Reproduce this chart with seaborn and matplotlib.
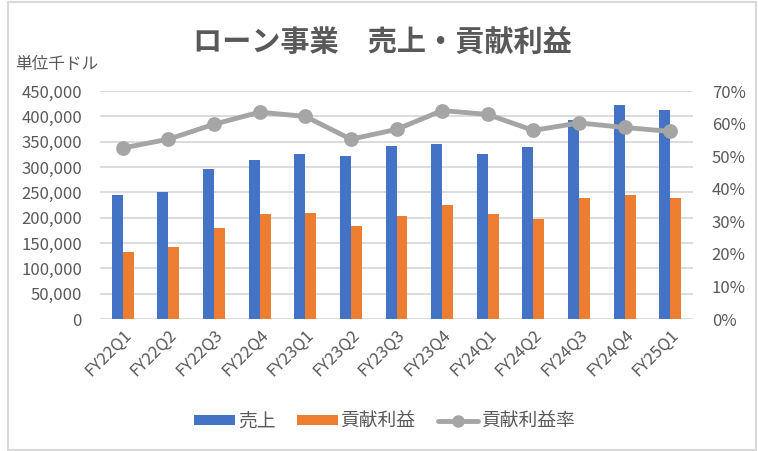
import pandas as pd
import seaborn as sns
import matplotlib
matplotlib.use('Agg')
import matplotlib.pyplot as plt
from matplotlib.patches import Patch, Rectangle
from matplotlib.lines import Line2D
from matplotlib.ticker import FuncFormatter, MultipleLocator

quarters = ['FY22Q1', 'FY22Q2', 'FY22Q3', 'FY22Q4', 'FY23Q1', 'FY23Q2', 'FY23Q3',
            'FY23Q4', 'FY24Q1', 'FY24Q2', 'FY24Q3', 'FY24Q4', 'FY25Q1']
sales = [245000, 250000, 296000, 313000, 325000, 321000, 341000,
         345000, 325000, 339000, 392000, 422000, 412000]
contrib = [132000, 142000, 180000, 207000, 209000, 184000, 203000,
           225000, 207000, 197000, 239000, 244000, 239000]
rate = [0.525, 0.552, 0.598, 0.635, 0.622, 0.552, 0.582,
        0.640, 0.628, 0.579, 0.602, 0.588, 0.576]

BLUE = '#4472C4'
ORANGE = '#ED7D31'
GRAY = '#A5A5A5'
TXT = '#595959'
GRID = '#D9D9D9'

sns.set_style('white')
plt.rcParams['font.family'] = ['Noto Sans CJK JP', 'DejaVu Sans']

df = pd.DataFrame({'q': quarters * 2,
                   'v': sales + contrib,
                   's': ['売上'] * len(quarters) + ['貢献利益'] * len(quarters)})
df_rate = pd.DataFrame({'q': quarters, 'r': rate})

fig = plt.figure(figsize=(7.58, 4.51), dpi=100)
ax = fig.add_axes([100 / 758, 1 - 319 / 451, 593 / 758, 228 / 451])

sns.barplot(data=df, x='q', y='v', hue='s', order=quarters,
            palette=[BLUE, ORANGE], width=0.48, gap=0, saturation=1,
            linewidth=0, edgecolor='none', ax=ax, legend=False)
ax.set_ylim(0, 450000)
ax.yaxis.set_major_locator(MultipleLocator(50000))
ax.yaxis.set_major_formatter(FuncFormatter(lambda v, p: f'{int(v):,}'))
ax.grid(axis='y', color=GRID, lw=1.3)
ax.set_axisbelow(True)
ax.set_xlabel('')
ax.set_ylabel('')
for s in ax.spines.values():
    s.set_visible(False)
ax.tick_params(axis='y', length=0, labelsize=12, labelcolor=TXT, pad=13)
ax.tick_params(axis='x', length=0, labelsize=12, labelcolor=TXT, pad=5)
for lab in ax.get_xticklabels():
    lab.set_rotation(45)
    lab.set_ha('right')
    lab.set_va('top')
    lab.set_rotation_mode('anchor')

ax2 = ax.twinx()
sns.pointplot(data=df_rate, x='q', y='r', order=quarters, color=GRAY,
              markers='o', markersize=8, linewidth=3.5, ax=ax2)
ax2.set_ylim(0, 0.7)
ax2.yaxis.set_major_locator(MultipleLocator(0.1))
ax2.yaxis.set_major_formatter(FuncFormatter(lambda v, p: f'{v * 100:.0f}%'))
ax2.set_ylabel('')
ax2.set_xlabel('')
for s in ax2.spines.values():
    s.set_visible(False)
ax2.tick_params(axis='y', length=0, labelsize=12, labelcolor=TXT, pad=13.5)
ax2.set_xlim(-0.5, len(quarters) - 0.5)

fig.text(382 / 758, 1 - 42 / 451, 'ローン事業　売上・貢献利益', ha='center', va='center',
         fontsize=21, fontweight='bold', color=TXT)
fig.text(15 / 758, 1 - 64 / 451, '単位千ドル', ha='left', va='center',
         fontsize=12, color=TXT)

handles = [Patch(facecolor=BLUE, edgecolor='none'),
           Patch(facecolor=ORANGE, edgecolor='none'),
           Line2D([], [], color=GRAY, lw=3.5, marker='o', markersize=8)]
fig.legend(handles, ['売上', '貢献利益', '貢献利益率'], loc='center',
           bbox_to_anchor=(385 / 758, 1 - 421 / 451), ncol=3, frameon=False,
           fontsize=13.5, labelcolor=TXT, handlelength=2.15, handleheight=0.5,
           handletextpad=0.2, columnspacing=1.15)

fig.patches.append(Rectangle((8 / 758, 1 / 451), 748 / 758, 448 / 451,
                             transform=fig.transFigure, fill=False,
                             edgecolor=GRID, lw=1.5))

fig.savefig('out.png', dpi=100)
